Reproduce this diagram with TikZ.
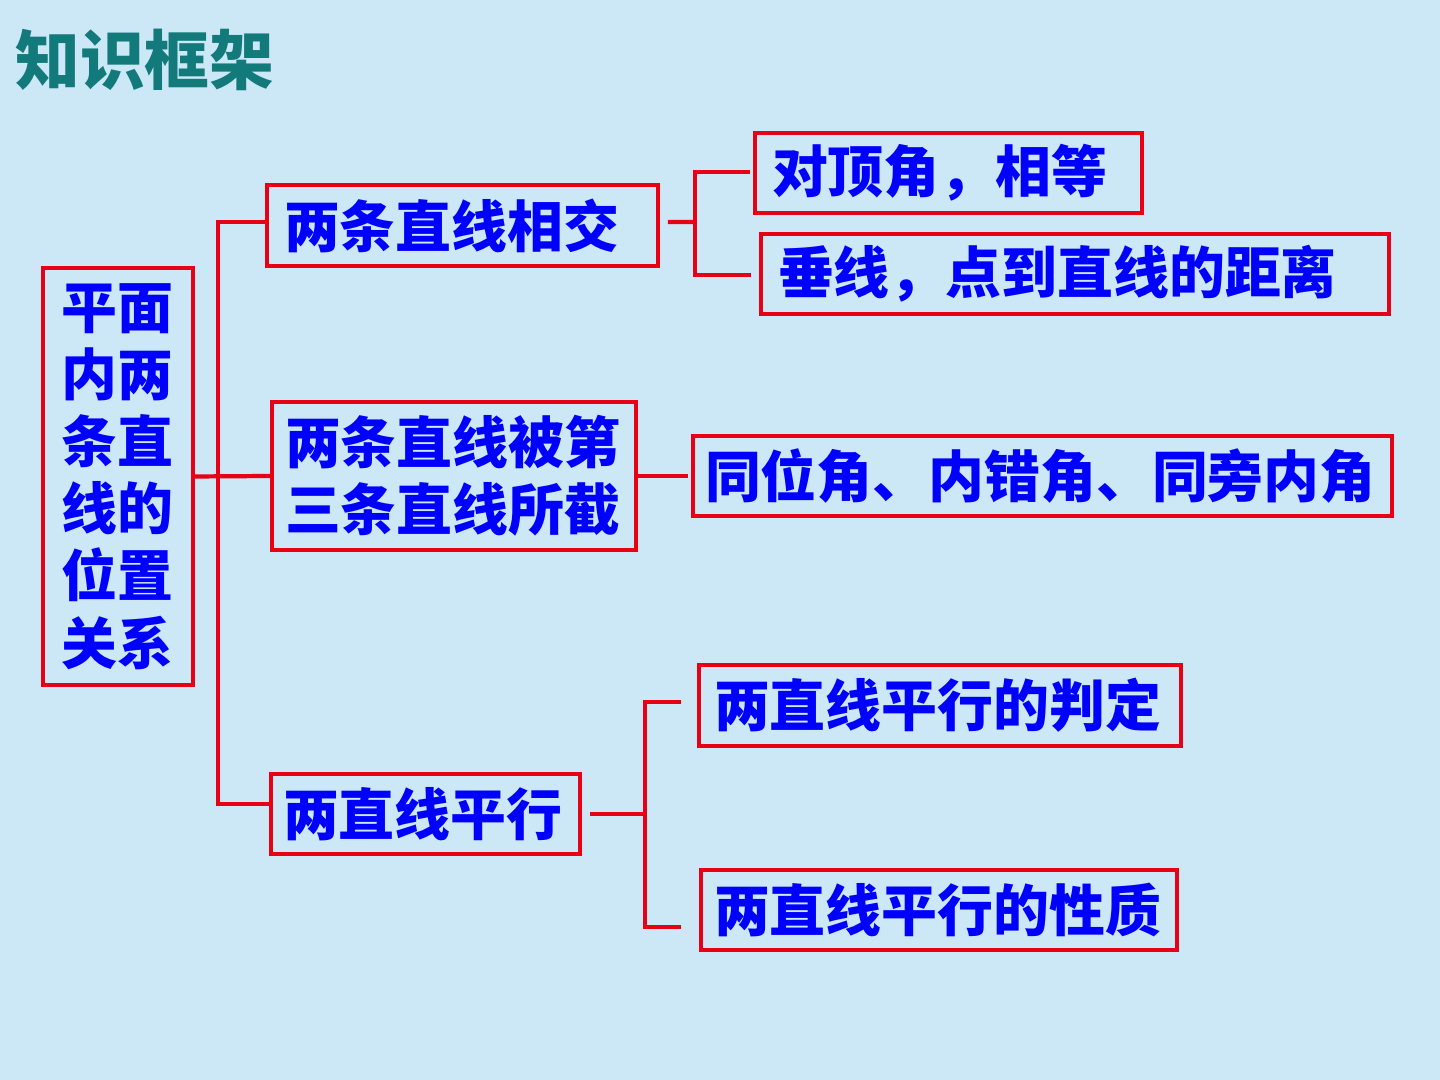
\documentclass[tikz,border=0pt]{standalone}
\usepackage{fontspec}
\newfontfamily\cjk{Noto Sans CJK SC}
\usepackage{xcolor}
\definecolor{bgblue}{RGB}{204,232,246}
\definecolor{boxred}{RGB}{232,0,20}
\definecolor{txtblue}{RGB}{0,0,255}
\definecolor{titleteal}{RGB}{18,122,122}
\usetikzlibrary{positioning}

\begin{document}
\begin{tikzpicture}[thick,
                    kbox/.style={draw=boxred,line width=1pt,text=txtblue,
                      font=\cjk\bfseries\fontsize{15.9}{19.1}\selectfont,
                      inner xsep=0.17cm,inner ysep=0pt,minimum height=0.8cm,align=left},
                    link/.style={draw=boxred,line width=1.2pt}]

  \useasboundingbox (0,0) rectangle (14.4,10.8);
  \fill[bgblue] (0,0) rectangle (14.4,10.8);

  \node[anchor=west,inner sep=0pt,text=titleteal,
        font=\cjk\bfseries\fontsize{18.4}{20}\selectfont] (title) at (0.14,10.2) {知识框架};

  \node[kbox,text width=1.13cm,inner xsep=0.185cm,minimum height=4.17cm] (plane) at (1.18,6.035)
    {平面\\内两\\条直\\线的\\位置\\关系};
  \node[kbox,text width=3.57cm,minimum height=0.81cm] (A) at (4.625,8.545) {两条直线相交};
  \node[kbox,text width=3.38cm,inner xsep=0.13cm,minimum height=1.48cm] (B) at (4.54,6.04) {两条直线被第\\三条直线所截};
  \node[kbox,text width=2.85cm,inner xsep=0.12cm] (C) at (4.255,2.66) {两直线平行};
  \node[kbox,text width=3.53cm] (A1) at (9.485,9.07) {对顶角，相等};
  \node[kbox,text width=5.94cm] (A2) at (10.75,8.06) {垂线，点到直线的距离};
  \node[kbox,text width=6.75cm,inner xsep=0.12cm] (B1) at (10.425,6.04) {同位角、内错角、同旁内角};
  \node[kbox,text width=4.52cm,inner xsep=0.15cm,minimum height=0.81cm] (C1) at (9.40,3.745) {两直线平行的判定};
  \node[kbox,text width=4.50cm,inner xsep=0.13cm] (C2) at (9.39,1.70) {两直线平行的性质};

  \coordinate (lx) at (2.18,6.05);
  \coordinate (ax) at (6.95,8.58);
  \coordinate (cx) at (6.45,2.66);

  \draw[link] (plane.east) -- (B.west);
  \draw[link] ([yshift=0.035cm]A.west) -| (lx) |- ([yshift=0.1cm]C.west);
  \draw[link] ([xshift=0.08cm,yshift=0.035cm]A.east) -- (ax);
  \draw[link] ([xshift=-0.03cm,yshift=0.01cm]A1.west) -| (ax) |- ([xshift=-0.08cm,yshift=-0.01cm]A2.west);
  \draw[link] (B.east) -- ([xshift=-0.03cm]B1.west);
  \draw[link] ([xshift=0.08cm]C.east) -- (cx);
  \draw[link] ([xshift=-0.16cm,yshift=0.035cm]C1.west) -| (cx) |- ([xshift=-0.18cm,yshift=-0.17cm]C2.west);
\end{tikzpicture}
\end{document}
